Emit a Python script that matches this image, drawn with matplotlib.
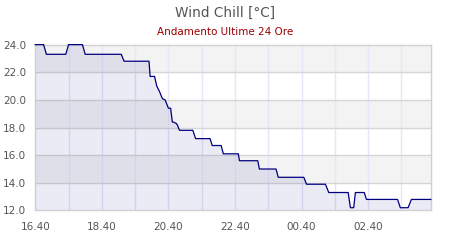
import datetime as dt
import matplotlib
matplotlib.use("Agg")
import matplotlib.pyplot as plt
import matplotlib.dates as mdates

# vertices of the wind chill trace (time, value in degC)
times = ["16:40", "16:55", "17:00", "17:35", "17:40", "18:05", "18:10", "19:15",
         "19:20", "20:05", "20:07", "20:15", "20:19", "20:24", "20:29", "20:34",
         "20:37", "20:40", "20:44", "20:47", "20:49", "20:54", "20:56", "21:00",
         "21:24", "21:29", "21:55", "21:59", "22:15", "22:19", "22:46", "22:48",
         "23:21", "23:24", "23:54", "23:58", "00:44", "00:49", "01:23", "01:29",
         "02:04", "02:08", "02:14", "02:17", "02:33", "02:37", "03:33", "03:38",
         "03:52", "03:58", "04:33"]
values = [24.0, 24.0, 23.3, 23.3, 24.0, 24.0, 23.3, 23.3,
          22.8, 22.8, 21.7, 21.7, 21.0, 20.6, 20.1, 20.0,
          19.7, 19.4, 19.4, 18.4, 18.4, 18.3, 18.2, 17.8,
          17.8, 17.2, 17.2, 16.7, 16.7, 16.1, 16.1, 15.6,
          15.6, 15.0, 15.0, 14.4, 14.4, 13.9, 13.9, 13.3,
          13.3, 12.2, 12.2, 13.3, 13.3, 12.8, 12.8, 12.2,
          12.2, 12.8, 12.8]
xtick_labels = ["16.40", "18.40", "20.40", "22.40", "00.40", "02.40"]
grid_hours = ["16:40", "17:40", "18:40", "19:40", "20:40", "21:40", "22:40",
              "23:40", "00:40", "01:40", "02:40", "03:40"]
y_ticks = [12.0, 14.0, 16.0, 18.0, 20.0, 22.0, 24.0]

def to_dt(s):
    h, m = [int(v) for v in s.replace(".", ":").split(":")]
    day = 1 if h >= 12 else 2
    return dt.datetime(2020, 1, day, h, m)

t = [to_dt(s) for s in times]

fig = plt.figure(figsize=(4.5, 2.4), dpi=100)
ax = fig.add_axes([0.0784, 0.123, 0.879, 0.691])

# alternating bands
for i in range(len(y_ticks) - 1):
    if i % 2 == 1:
        ax.axhspan(y_ticks[i], y_ticks[i + 1], color="#f3f3f3", zorder=0, lw=0)

for g in grid_hours:
    ax.axvline(to_dt(g), color="#e6e6f8", lw=1, zorder=1)
for y in y_ticks[1:-1]:
    ax.axhline(y, color="#d6d6d6", lw=1, zorder=1)

ax.fill_between(t, values, 12.0, color=(0, 0, 0.5, 0.08), lw=0, zorder=2)
ax.plot(t, values, color="#000080", lw=0.9, zorder=3, clip_on=False)

ax.set_xlim(to_dt("16:40"), to_dt("04:33"))
ax.set_ylim(12, 24)
ax.set_yticks(y_ticks)
ax.set_yticklabels(["%.1f" % v for v in y_ticks])
ax.set_xticks([mdates.date2num(to_dt(s)) for s in xtick_labels])
ax.set_xticklabels(xtick_labels)
ax.tick_params(axis="both", length=0, labelsize=7.5, labelcolor="#555555")
ax.tick_params(axis="x", pad=8)
ax.tick_params(axis="y", pad=6.5)
for sp in ax.spines.values():
    sp.set_color("#d0d0d0")
    sp.set_linewidth(1)

fig.text(0.5, 1 - 12.5 / 240, "Wind Chill [°C]", ha="center", va="center",
         fontsize=9.8, color="#555555")
fig.text(0.5, 1 - 32 / 240, "Andamento Ultime 24 Ore", ha="center", va="center",
         fontsize=7.5, color="#990000")

fig.savefig("out.png", dpi=100)
